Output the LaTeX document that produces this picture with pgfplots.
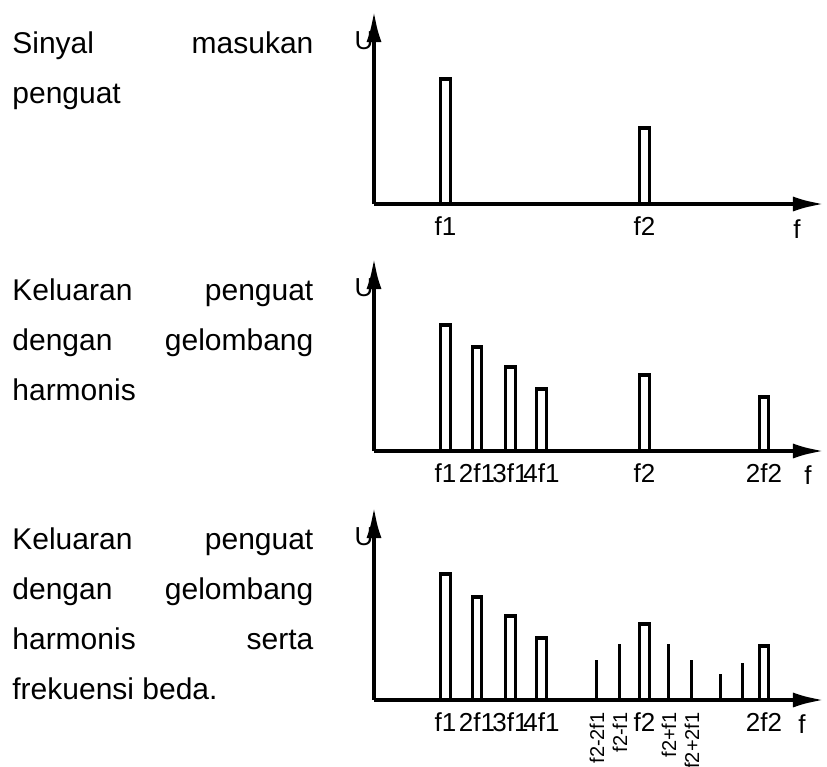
\documentclass[border=0pt]{standalone}
\usepackage{fontspec}
\setmainfont{Liberation Sans}
\usepackage{pgfplots}
\pgfplotsset{compat=1.18}
\usetikzlibrary{arrows.meta}

% 1 px of the reference = 0.5pt
\pgfplotsset{
  spek/.style={
    x=0.5pt, y=0.5pt,
    xmin=0, xmax=451, ymin=0, ymax=194,
    axis lines=left,
    axis line style={line width=2.2pt, -{Latex[length=16pt,width=7.5pt]}},
    axis on top, clip=false,
    ytick=\empty, major tick length=0pt,
    xticklabel style={font=\fontsize{13}{13}\selectfont, inner sep=0pt},
    xticklabel shift=6pt,
    anchor=south west,
  },
  batang/.style={ybar, bar width=9.5, bar shift=0pt, draw=black, fill=white, line width=1.7pt},
  garis/.style={ycomb, black, line width=1.5pt, no markers},
}
\tikzset{teks/.style={anchor=base west, text width=150.5pt, align=justify, inner sep=0pt,
  font=\fontsize{15}{25}\selectfont},
  sb/.style={font=\fontsize{13}{13}\selectfont}}

\begin{document}
\begin{tikzpicture}
\useasboundingbox (0,0) rectangle (413.5pt,-383.5pt);

\node[teks] at (6pt,-26.5pt) {Sinyal masukan\linebreak penguat};
\node[teks] at (6pt,-150pt) {Keluaran penguat\linebreak dengan gelombang\linebreak harmonis};
\node[teks] at (6pt,-274.5pt) {Keluaran penguat\linebreak dengan gelombang\linebreak harmonis serta\linebreak frekuensi beda.};

% panel 1: sinyal masukan
\begin{axis}[spek, at={(187pt,-102pt)},
  xtick={71.5,270.5}, xticklabels={f1,f2}]
\addplot[batang] coordinates {(71.5,125) (270.5,76)};
\node[sb] at (axis cs:-10,163) {U};
\node[sb] at (axis cs:423,-25) {f};
\end{axis}

% panel 2: dengan harmonis
\begin{axis}[spek, at={(187pt,-225.5pt)},
  xtick={71.5,103,136.5,167.5,270.5,390},
  xticklabels={f1,2f1,3f1,4f1,f2,2f2}]
\addplot[batang] coordinates {(71.5,126) (103,104) (136.5,84) (167.5,62) (270.5,76) (390,54)};
\node[sb] at (axis cs:-10,163) {U};
\node[sb] at (axis cs:434,-24) {f};
\end{axis}

% panel 3: harmonis dan frekuensi beda
\begin{axis}[spek, at={(187pt,-350pt)},
  xtick={71.5,103,136.5,167.5,270.5,390},
  xticklabels={f1,2f1,3f1,4f1,f2,2f2},
  extra x ticks={223,246,295,318},
  extra x tick labels={f2-2f1,f2-f1,f2+f1,f2+2f1},
  extra x tick style={xticklabel style={rotate=90, anchor=east, font=\fontsize{10}{10}\selectfont}}]
\addplot[batang] coordinates {(71.5,126) (103,103) (136.5,84) (167.5,62) (270.5,76) (390,54)};
\addplot[garis] coordinates {(223,40) (246,56) (295,56) (318,40) (347,26) (369,37)};
\node[sb] at (axis cs:-10,163) {U};
\node[sb] at (axis cs:428,-24) {f};
\end{axis}
\end{tikzpicture}
\end{document}
